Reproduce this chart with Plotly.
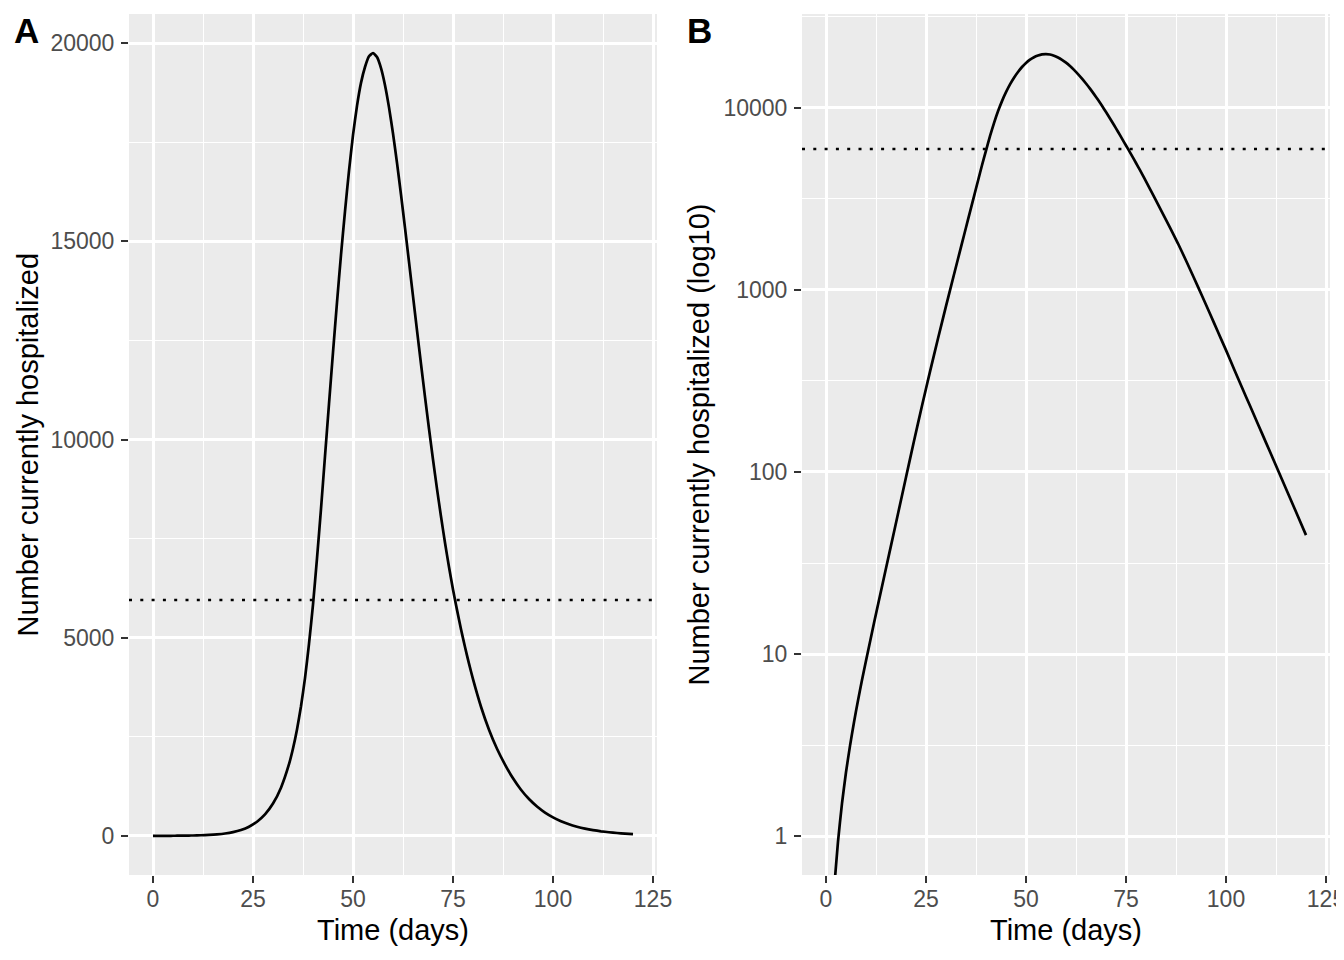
import plotly.graph_objects as go

# ---- data ----
days = [0, 1, 2, 3, 4, 5, 6, 7, 8, 9, 10, 12, 14, 16, 18, 20, 22, 24, 26, 28, 30, 32, 34,
        35, 36, 37, 38, 39, 40, 41, 42, 43, 44, 45, 46, 47, 48, 49, 50, 51, 52, 53, 54,
        55, 56, 57, 58, 59, 60, 61, 62, 63, 64, 65, 66, 67, 68, 69, 70, 71, 72, 73, 74,
        75, 76, 77, 78, 79, 80, 82, 84, 86, 88, 90, 92, 94, 96, 98, 100, 102, 104, 106,
        108, 110, 112, 114, 116, 118, 120]
hospitalized = [0, 0.25, 0.50, 0.933, 1.51, 2.24, 3.13, 4.22, 5.56, 7.19, 9.18, 14.8, 23.5,
                37.2, 59.0, 93.5, 148, 231, 356, 541, 815, 1216, 1807,
                2203, 2685, 3269, 3981, 4842, 5834, 7000, 8250, 9580, 10900, 12200, 13460,
                14660, 15760, 16780, 17680, 18420, 19000, 19400, 19670,
                19752, 19652, 19372, 18942, 18382, 17722, 16982, 16182, 15342, 14482, 13617,
                12757, 11907, 11077, 10272, 9497, 8757, 8057, 7397, 6782,
                6217, 5702, 5212, 4764, 4345, 3954, 3258, 2679, 2198, 1799, 1452, 1164, 929,
                740, 587, 467, 368, 291, 231, 183, 145, 115, 91, 72, 57, 45]
capacity = 5950
x_ticks = [0, 25, 50, 75, 100, 125]
a_y_ticks = [0, 5000, 10000, 15000, 20000]
a_y_minor = [2500, 7500, 12500, 17500]
b_y_ticks = [1, 10, 100, 1000, 10000]
b_y_minor = [10 ** 0.5, 10 ** 1.5, 10 ** 2.5, 10 ** 3.5, 10 ** 4.5]
x_title = "Time (days)"
a_y_title = "Number currently hospitalized"
b_y_title = "Number currently hospitalized (log10)"

FONT = "Liberation Sans, Arial, sans-serif"
BG = "#EBEBEB"
GRID = "white"
TICKCOL = "#4D4D4D"
W, H, OFF = 1336, 944, 8  # page has an 8px body margin


def px_x(p):
    return (p - OFF) / W


def px_y(p):
    return 1 - (p - OFF) / H


fig = go.Figure()
line_style = dict(color="black", width=2.7, shape="spline", smoothing=0.5)
fig.add_trace(go.Scatter(x=days, y=hospitalized, mode="lines", line=line_style,
                         xaxis="x", yaxis="y", showlegend=False, hoverinfo="skip"))
b_vals = [v if v > 0 else None for v in hospitalized]
fig.add_trace(go.Scatter(x=days, y=b_vals, mode="lines", line=line_style,
                         xaxis="x2", yaxis="y2", showlegend=False, hoverinfo="skip"))

ydom = [px_y(875), px_y(14)]
tick_common = dict(
    ticks="outside", ticklen=7, tickwidth=2, tickcolor="#333333",
    tickfont=dict(family=FONT, size=23, color=TICKCOL),
    showgrid=True, gridcolor=GRID, gridwidth=2.6, zeroline=False, showline=False,
    fixedrange=True, automargin=False, ticklabeloverflow="allow",
)
common_x = dict(
    range=[-6, 126], tickvals=x_ticks, ticktext=[str(t) for t in x_ticks],
    ticklabelstandoff=-4,
    minor=dict(dtick=12.5, tick0=0, showgrid=True, gridcolor=GRID, gridwidth=1.3, ticklen=0),
    **tick_common,
)
title_font = dict(family=FONT, size=29, color="black")
fig.update_layout(
    width=W, height=H, autosize=False,
    margin=dict(l=0, r=0, t=0, b=0, autoexpand=False),
    paper_bgcolor="white", plot_bgcolor=BG,
    font=dict(family=FONT),
    xaxis=dict(domain=[px_x(129), px_x(657)], anchor="y", **common_x),
    xaxis2=dict(domain=[px_x(802), px_x(1330)], anchor="y2", **common_x),
    yaxis=dict(
        domain=ydom, anchor="x", range=[-988, 20738],
        tickvals=a_y_ticks, ticktext=[str(t) for t in a_y_ticks], ticklabelstandoff=2,
        minor=dict(tickvals=a_y_minor, showgrid=True,
                   gridcolor=GRID, gridwidth=1.3, ticklen=0),
        **tick_common,
    ),
    yaxis2=dict(
        domain=ydom, anchor="x2", type="log", range=[-0.214, 4.516],
        tickvals=b_y_ticks, ticktext=[str(t) for t in b_y_ticks], ticklabelstandoff=2,
        minor=dict(tickvals=b_y_minor, showgrid=True,
                   gridcolor=GRID, gridwidth=1.3, ticklen=0),
        **tick_common,
    ),
    shapes=[
        dict(type="line", xref="x domain", yref="y", x0=0, x1=1, y0=capacity, y1=capacity,
             line=dict(color="black", width=2.6, dash="3px,8.3px"), layer="above"),
        dict(type="line", xref="x2 domain", yref="y2", x0=0, x1=1, y0=capacity, y1=capacity,
             line=dict(color="black", width=2.6, dash="3px,8.3px"), layer="above"),
    ],
    annotations=[
        dict(text="<b>A</b>", x=px_x(12), y=px_y(30), xref="paper", yref="paper",
             xanchor="left", yanchor="middle", showarrow=False,
             font=dict(family=FONT, size=35, color="black")),
        dict(text="<b>B</b>", x=px_x(685), y=px_y(30), xref="paper", yref="paper",
             xanchor="left", yanchor="middle", showarrow=False,
             font=dict(family=FONT, size=35, color="black")),
        dict(text=x_title, x=px_x(393), y=px_y(930), xref="paper", yref="paper",
             xanchor="center", yanchor="middle", showarrow=False, font=title_font),
        dict(text=x_title, x=px_x(1066), y=px_y(930), xref="paper", yref="paper",
             xanchor="center", yanchor="middle", showarrow=False, font=title_font),
        dict(text=a_y_title, x=px_x(27), y=px_y(444.5), xref="paper", yref="paper",
             xanchor="center", yanchor="middle", showarrow=False, textangle=-90,
             font=title_font),
        dict(text=b_y_title, x=px_x(698), y=px_y(444.5), xref="paper", yref="paper",
             xanchor="center", yanchor="middle", showarrow=False, textangle=-90,
             font=title_font),
    ],
)

fig.write_html("out.html", config={"responsive": False, "displayModeBar": False})
